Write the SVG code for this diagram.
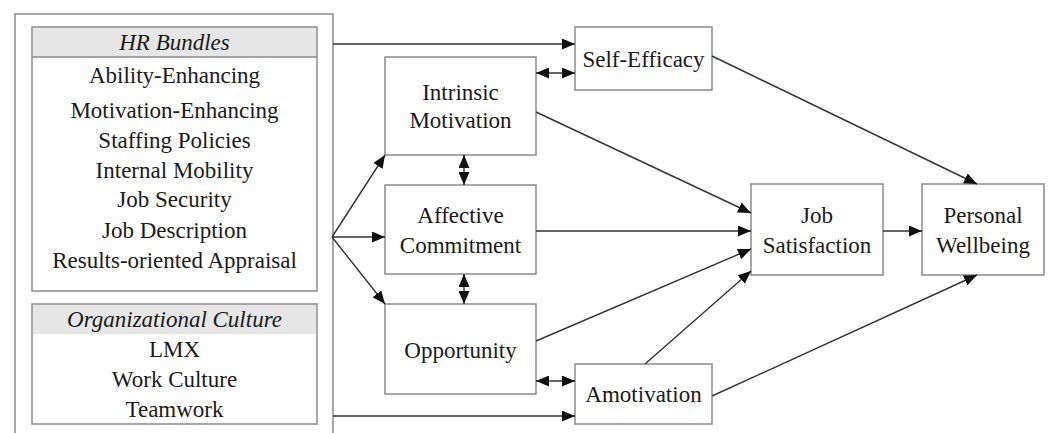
<svg xmlns="http://www.w3.org/2000/svg" width="1051" height="433" viewBox="0 0 1051 433">
<defs>
<style>
.box{fill:#fff;stroke:#8a8a8a;stroke-width:1.5}
.hdr{fill:#e6e6e6;stroke:none}
.t{font-family:"Liberation Serif","Times New Roman",serif;font-size:23px;fill:#1a1a1a;text-anchor:middle}
.i{font-style:italic}
.c{fill:none;stroke:#333;stroke-width:1.4}
.a{marker-end:url(#ah)}
.d{marker-start:url(#ah);marker-end:url(#ah)}
</style>
<marker id="ah" markerUnits="userSpaceOnUse" markerWidth="13" markerHeight="11" refX="13" refY="5.5" orient="auto-start-reverse" viewBox="0 0 13 11">
<path d="M0,0 L13,5.5 L0,11 z" fill="#111"/>
</marker>
</defs>
<rect width="1051" height="433" fill="#fff"/>

<g id="outer">
<path d="M15,440 V14 H333 V440" class="box"/>
</g>

<g id="hr-bundles">
<rect x="32" y="27" width="285" height="264" class="box"/>
<rect x="33" y="28" width="283" height="29" class="hdr"/>
<line x1="32" y1="57" x2="317" y2="57" stroke="#8a8a8a" stroke-width="1.5"/>
<text x="174.5" y="50" class="t i">HR Bundles</text>
<text x="174.5" y="83" class="t">Ability-Enhancing</text>
<text x="174.5" y="118" class="t">Motivation-Enhancing</text>
<text x="174.5" y="148" class="t">Staffing Policies</text>
<text x="174.5" y="178" class="t">Internal Mobility</text>
<text x="174.5" y="207" class="t">Job Security</text>
<text x="174.5" y="238" class="t">Job Description</text>
<text x="174.5" y="268" class="t">Results-oriented Appraisal</text>
</g>

<g id="org-culture">
<rect x="32" y="304" width="285" height="120" class="box"/>
<rect x="33" y="305" width="283" height="29" class="hdr"/>
<text x="174.5" y="327" class="t i">Organizational Culture</text>
<text x="174.5" y="357" class="t">LMX</text>
<text x="174.5" y="387" class="t">Work Culture</text>
<text x="174.5" y="417" class="t">Teamwork</text>
</g>

<g id="intrinsic-motivation">
<rect x="385" y="57" width="151" height="98" class="box"/>
<text x="460.5" y="100" class="t">Intrinsic</text>
<text x="460.5" y="128" class="t">Motivation</text>
</g>

<g id="affective-commitment">
<rect x="385" y="185" width="151" height="89" class="box"/>
<text x="460.5" y="223" class="t">Affective</text>
<text x="460.5" y="253" class="t">Commitment</text>
</g>

<g id="opportunity">
<rect x="385" y="304" width="151" height="90" class="box"/>
<text x="460.5" y="358" class="t">Opportunity</text>
</g>

<g id="self-efficacy">
<rect x="575" y="27" width="137" height="63" class="box"/>
<text x="643.5" y="67" class="t">Self-Efficacy</text>
</g>

<g id="amotivation">
<rect x="575" y="364" width="137" height="60" class="box"/>
<text x="643.5" y="402" class="t">Amotivation</text>
</g>

<g id="job-satisfaction">
<rect x="751" y="184" width="132" height="91" class="box"/>
<text x="817" y="223" class="t">Job</text>
<text x="817" y="253" class="t">Satisfaction</text>
</g>

<g id="personal-wellbeing">
<rect x="922" y="184" width="122" height="91" class="box"/>
<text x="983" y="223" class="t">Personal</text>
<text x="983" y="253" class="t">Wellbeing</text>
</g>

<g id="connectors">
<line x1="333" y1="44" x2="575" y2="44" class="c a"/>
<line x1="333" y1="416" x2="575" y2="416" class="c a"/>
<line x1="332" y1="237" x2="385" y2="155" class="c a"/>
<line x1="332" y1="237" x2="385" y2="237" class="c a"/>
<line x1="332" y1="237" x2="385" y2="304" class="c a"/>
<line x1="536" y1="73" x2="575" y2="73" class="c d"/>
<line x1="464" y1="155" x2="464" y2="185" class="c d"/>
<line x1="464" y1="274" x2="464" y2="304" class="c d"/>
<line x1="536" y1="381" x2="575" y2="381" class="c d"/>
<line x1="536" y1="112" x2="751" y2="213" class="c a"/>
<line x1="536" y1="231" x2="751" y2="231" class="c a"/>
<line x1="536" y1="341" x2="751" y2="249" class="c a"/>
<line x1="645" y1="364" x2="751" y2="271" class="c a"/>
<line x1="712" y1="56" x2="977" y2="184" class="c a"/>
<line x1="712" y1="396" x2="977" y2="275" class="c a"/>
<line x1="883" y1="231" x2="922" y2="231" class="c a"/>
</g>
</svg>
